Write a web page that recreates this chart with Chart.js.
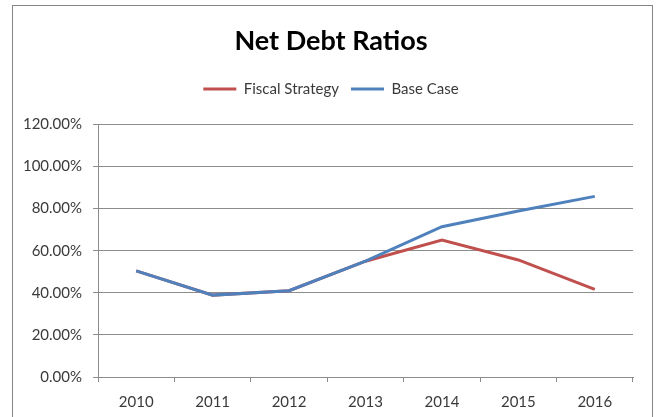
<!DOCTYPE html>
<html>
<head>
<meta charset="utf-8">
<script src="https://cdn.jsdelivr.net/npm/chart.js@4/dist/chart.umd.min.js"></script>
<style>
  html, body { margin: 0; padding: 0; background: #ffffff; }
  #wrap { position: relative; width: 661px; height: 417px; }
</style>
</head>
<body>
<div id="wrap"><canvas id="c" width="661" height="417"></canvas></div>
<script>
// Net debt ratio projections, as fractions (0.5 = 50%)
const years = ['2010', '2011', '2012', '2013', '2014', '2015', '2016'];
const fiscalStrategy = [0.504, 0.389, 0.41, 0.55, 0.651, 0.556, 0.416];
const baseCase = [0.504, 0.389, 0.41, 0.55, 0.714, 0.789, 0.858];

const FONT = 'Lato, "Open Sans", "DejaVu Sans", sans-serif';
const TEXT = '#3a3a3a';
const GRID = '#8c8c8c';

// Thin grey frame around the whole chart
const framePlugin = {
  id: 'frame',
  beforeDraw(chart) {
    const ctx = chart.ctx;
    ctx.save();
    ctx.fillStyle = '#ffffff';
    ctx.fillRect(0, 0, chart.width, chart.height);
    ctx.strokeStyle = '#868686';
    ctx.lineWidth = 1;
    ctx.strokeRect(12.5, 5.5, 640, 430);
    ctx.restore();
  }
};

// Leave extra room below the legend before the plot area starts
const legendGapPlugin = {
  id: 'legendGap',
  afterInit(chart) {
    const legend = chart.legend;
    if (legend && !legend._gapWrapped) {
      const baseFit = legend.fit.bind(legend);
      legend.fit = function () {
        baseFit();
        this.height += 18;
      };
      legend._gapWrapped = true;
    }
  }
};

new Chart(document.getElementById('c'), {
  type: 'line',
  data: {
    labels: years,
    datasets: [
      {
        label: 'Fiscal Strategy',
        data: fiscalStrategy,
        borderColor: '#C0504D',
        backgroundColor: '#C0504D',
        borderWidth: 3,
        pointRadius: 0,
        tension: 0,
        order: 2
      },
      {
        label: 'Base Case',
        data: baseCase,
        borderColor: '#4F81BD',
        backgroundColor: '#4F81BD',
        borderWidth: 3,
        pointRadius: 0,
        tension: 0,
        order: 1
      }
    ]
  },
  options: {
    responsive: false,
    animation: false,
    devicePixelRatio: 1,
    layout: { padding: { left: 13, right: 12, top: 6, bottom: 0 } },
    plugins: {
      title: {
        display: true,
        text: 'Net Debt Ratios',
        color: '#000000',
        font: { family: FONT, size: 27, weight: 'bold' },
        padding: { top: 19, bottom: 12 }
      },
      legend: {
        display: true,
        labels: {
          color: TEXT,
          font: { family: FONT, size: 15 },
          boxWidth: 33,
          boxHeight: 3,
          padding: 12,
          sort: (a, b) => a.datasetIndex - b.datasetIndex,
          generateLabels(chart) {
            return chart.data.datasets.map((ds, i) => ({
              text: ds.label,
              fillStyle: ds.borderColor,
              strokeStyle: ds.borderColor,
              lineWidth: 0,
              hidden: false,
              datasetIndex: i,
              fontColor: TEXT
            }));
          }
        }
      },
      tooltip: { enabled: false }
    },
    scales: {
      x: {
        offset: true,
        grid: {
          offset: true,
          drawOnChartArea: false,
          drawTicks: true,
          tickLength: 5,
          color: GRID
        },
        border: { display: true, color: GRID, width: 1 },
        ticks: {
          color: TEXT,
          font: { family: FONT, size: 15 },
          padding: 11,
          maxRotation: 0
        },
        afterFit(scale) { scale.height = 40; }
      },
      y: {
        min: 0,
        max: 1.2,
        grid: {
          color: GRID,
          drawTicks: true,
          tickLength: 5
        },
        border: { display: true, color: GRID, width: 1 },
        ticks: {
          stepSize: 0.2,
          color: TEXT,
          font: { family: FONT, size: 15 },
          padding: 11,
          callback: (v) => (v * 100).toFixed(2) + '%'
        },
        afterFit(scale) { scale.width = 85; }
      },
      // Blank right-hand margin inside the frame
      yRight: {
        position: 'right',
        min: 0,
        max: 1.2,
        grid: { display: false },
        border: { display: false },
        ticks: { display: false },
        afterFit(scale) { scale.width = 16; }
      }
    }
  },
  plugins: [framePlugin, legendGapPlugin]
});
</script>
</body>
</html>
